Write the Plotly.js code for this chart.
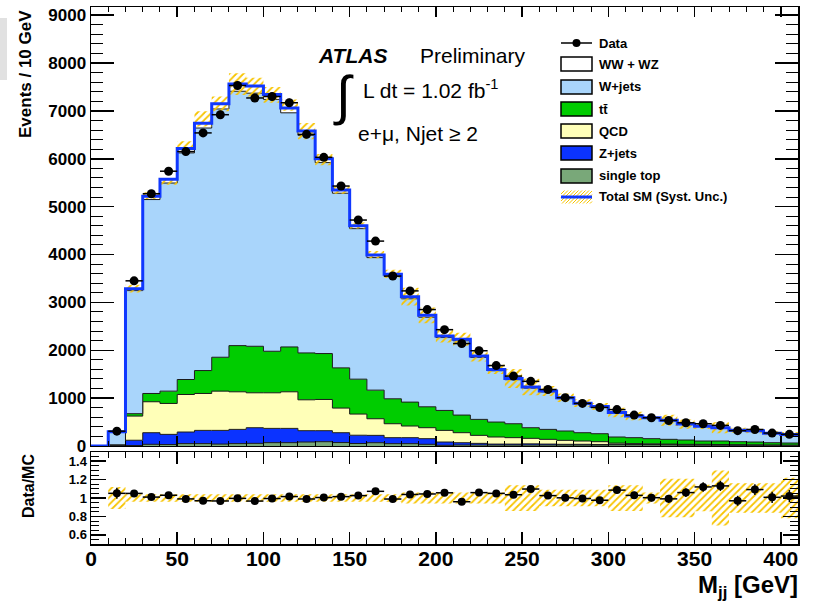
<!DOCTYPE html>
<html><head><meta charset="utf-8">
<script src="https://cdn.plot.ly/plotly-3.0.1.min.js"></script>
<style>html,body{margin:0;padding:0;background:#fff}#plot{width:817px;height:604px}</style>
</head><body><div id="plot"></div>
<script>
// ---- data ----
const binCenters = [15,25,35,45,55,65,75,85,95,105,115,125,135,145,155,165,175,185,195,205,215,225,235,245,255,265,275,285,295,305,315,325,335,345,355,365,375,385,395,405];
const dataEvents = [310,3450,5270,5740,6150,6540,6920,7530,7270,7300,7170,6510,6030,5430,4720,4280,3550,3240,2850,2430,2140,1990,1680,1460,1350,1180,1010,890,805,760,646,590,533,485,465,430,320,345,270,243];
const singleTop = [3,10,35,30,50,50,40,50,55,70,70,83,90,72,52,69,49,49,35,14,20,20,20,20,20,20,20,20,20,25,25,25,25,20,20,20,18,18,15,15];
const zJets = [5,110,243,213,242,276,286,297,327,298,298,237,230,206,173,153,125,125,118,69,49,35,20,20,25,20,15,15,12,10,5,5,3,5,5,2,2,2,3,1];
const qcd = [15,505,646,646,784,771,820,785,729,743,764,645,652,514,442,347,291,243,229,243,209,167,148,134,115,99,83,69,58,25,20,15,12,10,10,8,8,5,4,4];
const ttbar = [2,50,173,257,313,479,708,965,972,868,937,979,959,840,729,598,521,500,437,417,368,334,312,291,222,208,195,174,167,128,124,108,99,90,69,74,62,58,47,42];
const wJets = [265,2571,4051,4347,4733,5066,5186,5313,5287,5261,4891,4546,3989,3648,3144,2768,2554,2158,1871,1522,1552,1294,1072,920,826,783,677,601,553,499,442,424,389,324,303,268,233,226,193,171];
const wwWz = [5,40,70,80,90,100,110,150,150,100,100,90,80,70,60,55,50,45,40,35,32,30,28,25,22,20,18,16,15,13,12,11,10,9,8,8,7,7,6,5];
// systematic band in the main panel, % of total (upper / lower edge)
const bandHiPct = [5,2.5,1.6,0.3,2.5,3.7,2.1,3.0,2.3,2.2,2.5,2.5,1.7,1.4,1.5,2.1,2.5,6,6,6,6,6,6,14,14,9,9,9,9,14,14,6,21,21,14.5,30,16,16,16,22];
const bandLoPct = [-5,-2.5,-1.1,-2.1,-0.3,-1.0,-2.2,-3.0,-2.9,-2.3,-0.8,-2.6,-2.3,-1.5,-1.2,-1.7,-2.3,-6,-6,-6,-6,-6,-6,-14,-14,-9,-9,-9,-9,-14,-14,-6,-21,-21,-14.5,-30,-16,-16,-16,-22];
// relative systematic uncertainty in the ratio panel
const ratioUnc = [0.12,0.04,0.04,0.04,0.04,0.04,0.04,0.04,0.04,0.04,0.04,0.04,0.04,0.04,0.04,0.04,0.04,0.06,0.06,0.06,0.06,0.06,0.06,0.14,0.14,0.09,0.09,0.09,0.09,0.14,0.14,0.06,0.21,0.21,0.145,0.30,0.16,0.16,0.16,0.22];
const ratioTickVals = [0.6,0.8,1,1.2,1.4];
const ratioTickText = ['0.6','0.8','1','1.2','1.4'];

// ---- helpers ----
const FONT = 'Liberation Sans, Arial, sans-serif';
const L=91, R=798, T=7, B=544;
const xp = px => (px-L)/(R-L);
const yp = py => (B-py)/(B-T);
const n = binCenters.length;
const half = 5;
const edges = binCenters.map(c=>c-half).concat([binCenters[n-1]+half]);
const stepY = arr => arr.concat([arr[n-1]]);

const comps = [
  {v: singleTop, color:'#79a879'},
  {v: zJets, color:'#0b33ff'},
  {v: qcd, color:'#ffffb8'},
  {v: ttbar, color:'#00cc00'},
  {v: wJets, color:'#a9d5fb'},
  {v: wwWz, color:'#ffffff'}
];
const traces = [];
let cum = new Array(n).fill(0);
comps.forEach((c,i)=>{
  cum = cum.map((s,j)=>s+c.v[j]);
  traces.push({type:'scatter', x:edges, y:stepY(cum.slice()), mode:'lines',
    line:{shape:'hv', color:'#1a1a1a', width:1}, fill: i===0?'tozeroy':'tonexty',
    fillcolor:c.color, xaxis:'x2', yaxis:'y', hoverinfo:'skip', showlegend:false});
});
const total = cum.slice();

function bandPoly(lo, hi){
  const bx=[], by=[];
  for(let i=0;i<n;i++){
    const x0=edges[i], x1=edges[i+1];
    bx.push(x0,x1,x1,x0,x0,null);
    by.push(lo[i],lo[i],hi[i],hi[i],lo[i],null);
  }
  return {bx,by};
}
const pat = {shape:'/', fgcolor:'#f7c400', bgcolor:'rgba(0,0,0,0)', size:5, solidity:0.35};
const mb = bandPoly(total.map((t,i)=>t*(1+bandLoPct[i]/100)), total.map((t,i)=>t*(1+bandHiPct[i]/100)));
traces.push({type:'scatter', x:mb.bx, y:mb.by, mode:'lines', line:{width:0, color:'rgba(0,0,0,0)'},
  fill:'toself', fillcolor:'rgba(0,0,0,0)', fillpattern:pat, xaxis:'x2', yaxis:'y', hoverinfo:'skip', showlegend:false});

traces.push({type:'scatter', x:[0].concat(edges), y:[0].concat(stepY(total)), mode:'lines',
  line:{shape:'hv', color:'#1038ff', width:3}, xaxis:'x2', yaxis:'y', hoverinfo:'skip', showlegend:false});

traces.push({type:'scatter', x:binCenters, y:dataEvents, mode:'markers',
  marker:{color:'black', size:9}, error_y:{type:'data', array:dataEvents.map(Math.sqrt), color:'black', thickness:1.5, width:0},
  error_x:{type:'constant', value:5, color:'black', thickness:1.5, width:0},
  xaxis:'x2', yaxis:'y', hoverinfo:'skip', showlegend:false});

const rb = bandPoly(ratioUnc.map(u=>1-u), ratioUnc.map(u=>1+u));
traces.push({type:'scatter', x:rb.bx, y:rb.by, mode:'lines', line:{width:0, color:'rgba(0,0,0,0)'},
  fill:'toself', fillcolor:'rgba(0,0,0,0)', fillpattern:pat, xaxis:'x', yaxis:'y2', hoverinfo:'skip', showlegend:false});
traces.push({type:'scatter', x:binCenters, y:dataEvents.map((d,i)=>d/total[i]), mode:'markers',
  marker:{color:'black', size:8}, error_y:{type:'data', array:dataEvents.map((d,i)=>Math.sqrt(d)/total[i]), color:'black', thickness:1.5, width:0},
  error_x:{type:'constant', value:5, color:'black', thickness:1.5, width:0},
  xaxis:'x', yaxis:'y2', hoverinfo:'skip', showlegend:false});

// ---- legend & decorations ----
const shapes = [];
const annotations = [];
shapes.push({type:'rect', xref:'paper', yref:'paper', x0:xp(0), x1:xp(7), y0:yp(80), y1:yp(18), fillcolor:'#e1e1e1', line:{width:0}, layer:'above'});

const legendRows = [
  {label:'Data', y:43, kind:'data'},
  {label:'WW + WZ', y:64, color:'#ffffff'},
  {label:'W+jets', y:87, color:'#a9d5fb'},
  {label:'tt\u0304', y:109, color:'#00cc00'},
  {label:'QCD', y:131, color:'#ffffb8'},
  {label:'Z+jets', y:153, color:'#0b33ff'},
  {label:'single top', y:176, color:'#79a879'},
  {label:'Total SM (Syst. Unc.)', y:197, kind:'band'}
];
const bx0=561, bx1=592;
legendRows.forEach(r=>{
  if(r.kind==='data'){
    shapes.push({type:'line', xref:'paper', yref:'paper', x0:xp(bx0), x1:xp(bx1), y0:yp(r.y), y1:yp(r.y), line:{color:'black', width:1.5}});
    shapes.push({type:'circle', xref:'paper', yref:'paper', x0:xp(576.5-4), x1:xp(576.5+4), y0:yp(r.y+4), y1:yp(r.y-4), fillcolor:'black', line:{color:'black', width:0}});
  } else if(r.kind==='band'){
    const top=r.y-6.5, bot=r.y+6.5, h=bot-top;
    for(let k=bx0-h; k<bx1; k+=3.5){
      const t0=Math.max(0,bx0-k), t1=Math.min(h,bx1-k);
      if(t1<=t0) continue;
      shapes.push({type:'line', xref:'paper', yref:'paper', x0:xp(k+t0), y0:yp(bot-t0), x1:xp(k+t1), y1:yp(bot-t1), line:{color:'#f7c400', width:1}});
    }
    shapes.push({type:'line', xref:'paper', yref:'paper', x0:xp(bx0), x1:xp(bx1), y0:yp(r.y), y1:yp(r.y), line:{color:'#1038ff', width:3}});
  } else {
    shapes.push({type:'rect', xref:'paper', yref:'paper', x0:xp(bx0), x1:xp(bx1), y0:yp(r.y+7), y1:yp(r.y-7), fillcolor:r.color, line:{color:'black', width:1.5}});
  }
  annotations.push({xref:'paper', yref:'paper', x:xp(597), y:yp(r.y), xanchor:'left', yanchor:'middle', showarrow:false,
    text:'<b>'+r.label+'</b>', font:{family:FONT, size:13, color:'black'}});
});

annotations.push({xref:'paper', yref:'paper', x:xp(316), y:yp(55), xanchor:'left', yanchor:'middle', showarrow:false,
  text:'<b><i>ATLAS</i></b>', font:{family:FONT, size:21, color:'black'}});
annotations.push({xref:'paper', yref:'paper', x:xp(418), y:yp(55), xanchor:'left', yanchor:'middle', showarrow:false,
  text:'Preliminary', font:{family:FONT, size:21, color:'black'}});
annotations.push({xref:'paper', yref:'paper', x:xp(343), y:yp(95), xanchor:'center', yanchor:'middle', showarrow:false,
  text:'\u222B', font:{family:FONT, size:54, color:'black'}});
annotations.push({xref:'paper', yref:'paper', x:xp(361), y:yp(89), xanchor:'left', yanchor:'middle', showarrow:false,
  text:'L dt = 1.02 fb<sup>-1</sup>', font:{family:FONT, size:21, color:'black'}});
annotations.push({xref:'paper', yref:'paper', x:xp(356), y:yp(133), xanchor:'left', yanchor:'middle', showarrow:false,
  text:'e+\u03BC, Njet \u2265 2', font:{family:FONT, size:21, color:'black'}});
annotations.push({xref:'paper', yref:'paper', x:xp(25), y:yp(74), xanchor:'center', yanchor:'middle', showarrow:false, textangle:-90,
  text:'<b>Events / 10 GeV</b>', font:{family:FONT, size:17, color:'black'}});
annotations.push({xref:'paper', yref:'paper', x:xp(28), y:yp(486), xanchor:'center', yanchor:'middle', showarrow:false, textangle:-90,
  text:'<b>Data/MC</b>', font:{family:FONT, size:16, color:'black'}});
annotations.push({xref:'paper', yref:'paper', x:xp(799), y:yp(603), xanchor:'right', yanchor:'bottom', showarrow:false,
  text:'<b>M<sub>jj</sub> [GeV]</b>', font:{family:FONT, size:24, color:'black'}, borderpad:0});

const axBase = {showline:true, linecolor:'black', linewidth:1.5, mirror:'ticks', showgrid:false, zeroline:false,
  ticks:'inside', tickcolor:'black', tickwidth:1.5};
const layout = {
  width:817, height:604, margin:{l:L, r:817-R, t:T, b:604-B}, paper_bgcolor:'white', plot_bgcolor:'white',
  showlegend:false,
  xaxis: Object.assign({}, axBase, {domain:[0,1], anchor:'y2', range:[0,410], tick0:0, dtick:50, ticklen:12,
    minor:{ticks:'inside', ticklen:6, dtick:10, tick0:0, tickcolor:'black', tickwidth:1},
    ticklabelstandoff:-5,
    tickfont:{family:FONT, size:21, color:'black', weight:700}}),
  xaxis2: Object.assign({}, axBase, {domain:[0,1], anchor:'y', matches:'x', range:[0,410], tick0:0, dtick:50, ticklen:10,
    minor:{ticks:'inside', ticklen:5, dtick:10, tick0:0, tickcolor:'black', tickwidth:1}, showticklabels:false}),
  yaxis: Object.assign({}, axBase, {domain:[0.1825,1], anchor:'x2', range:[0,9170], tick0:0, dtick:1000, ticklen:23,
    minor:{ticks:'inside', ticklen:12, dtick:200, tick0:0, tickcolor:'black', tickwidth:1},
    tickfont:{family:FONT, size:17, color:'black', weight:700}}),
  yaxis2: Object.assign({}, axBase, {domain:[0,0.1713], anchor:'x', range:[0.5,1.5], tickmode:'array', tickvals:ratioTickVals, ticktext:ratioTickText, ticklen:15,
    minor:{ticks:'inside', ticklen:8, dtick:0.05, tick0:0.5, tickcolor:'black', tickwidth:1},
    tickfont:{family:FONT, size:13, color:'black', weight:700}}),
  shapes: shapes, annotations: annotations
};
Plotly.newPlot('plot', traces, layout, {displayModeBar:false, staticPlot:true});
</script>
</body></html>
